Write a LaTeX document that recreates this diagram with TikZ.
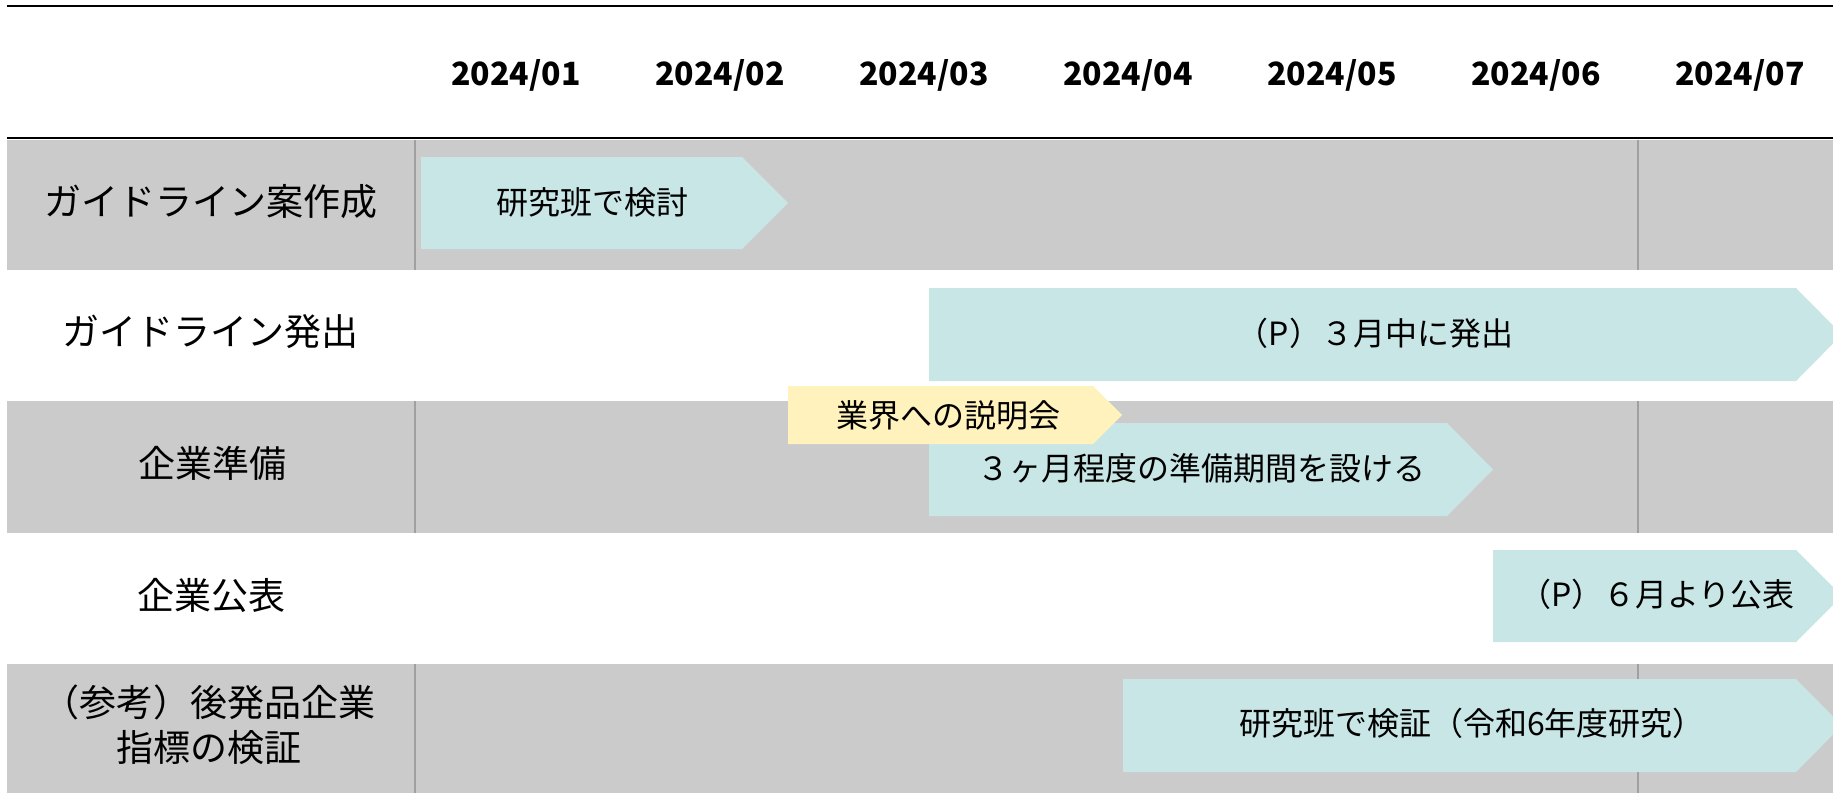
\documentclass[tikz,border=0pt]{standalone}
\usepackage{fontspec}
\setmainfont{Noto Sans CJK JP}
\definecolor{rowgray}{HTML}{CBCBCB}
\definecolor{barteal}{HTML}{C8E6E6}
\definecolor{baryellow}{HTML}{FFF2BC}
\definecolor{gridline}{HTML}{A0A0A0}
\begin{document}
\begin{tikzpicture}[x=1pt,y=-1pt,
  rowband/.style={fill=rowgray},
  gridrule/.style={draw=gridline, line width=1.2pt},
  headrule/.style={draw=black, line width=2.6pt},
  barshape/.style={fill=barteal},
  noteshape/.style={fill=baryellow},
  rowlabel/.style={font=\fontsize{37}{45}\selectfont, align=center, inner sep=0pt},
  bartext/.style={font=\fontsize{32}{38}\selectfont, inner sep=0pt},
  monthlabel/.style={font=\fontsize{32}{40}\selectfont\bfseries, inner sep=0pt}]
\useasboundingbox (0,0) rectangle (1833,793);
\clip (0,0) rectangle (1833,793);
% row bands
\fill[rowband] (7,139.5) rectangle (1833,269.5);
\fill[rowband] (7,401) rectangle (1833,533);
\fill[rowband] (7,664) rectangle (1833,793);
% grid lines
\foreach \a/\b in {139.5/269.5, 401/533, 664/793}{
  \draw[gridrule] (415,\a) -- (415,\b);
  \draw[gridrule] (1638,\a) -- (1638,\b);
}
% header rules
\draw[headrule] (7,6) -- (1833,6);
\draw[headrule] (7,138) -- (1833,138);
% months
\foreach \m [count=\i from 0] in {01,02,03,04,05,06,07}
  \node[monthlabel] (m\m) at (516+204*\i,75) {2024/\m};
% row labels
\node[rowlabel] (r1) at (211,202) {ガイドライン案作成};
\node[rowlabel] (r2) at (210,332) {ガイドライン発出};
\node[rowlabel] (r3) at (212,463) {企業準備};
\node[rowlabel] (r4) at (211,595) {企業公表};
\node[rowlabel] (r5) at (209,725) {（参考）後発品企業\\指標の検証};
% bars
\fill[barshape] (421,157) -- (742,157) -- (788,203) -- (742,249) -- (421,249) -- cycle;
\node[bartext] (b1) at (592,202) {研究班で検討};
\fill[barshape] (929,288) -- (1796,288) -- (1842,334.5) -- (1796,381) -- (929,381) -- cycle;
\node[bartext] (b2) at (1375,333) {（P）３月中に発出};
\fill[barshape] (929,423) -- (1447,423) -- (1493,469.5) -- (1447,516) -- (929,516) -- cycle;
\node[bartext] (b4) at (1201,468) {３ヶ月程度の準備期間を設ける};
\fill[noteshape] (788,386) -- (1093,386) -- (1122,415) -- (1093,444) -- (788,444) -- cycle;
\node[bartext] (b3) at (948,415) {業界への説明会};
\fill[barshape] (1493,550) -- (1796,550) -- (1842,596) -- (1796,642) -- (1493,642) -- cycle;
\node[bartext] (b5) at (1657,594) {（P）６月より公表};
\fill[barshape] (1123,679) -- (1796,679) -- (1842,725.5) -- (1796,772) -- (1123,772) -- cycle;
\node[bartext] (b6) at (1472,723) {研究班で検証（令和6年度研究）};
\end{tikzpicture}
\end{document}
